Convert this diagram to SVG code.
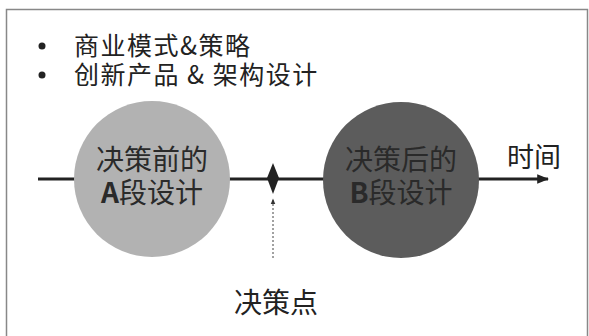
<svg xmlns="http://www.w3.org/2000/svg" width="589" height="336" viewBox="0 0 589 336">
<defs>
<style>
.t{font-family:"Noto Sans CJK SC","Noto Sans CJK JP",sans-serif;fill:#222}
.c{font-family:"Noto Sans CJK SC",sans-serif;font-size:28px;text-anchor:middle;fill:#2a2a2a}
.b{font-weight:bold}
</style>
<marker id="arr" viewBox="0 0 10 10" refX="9" refY="5" markerWidth="4" markerHeight="4" orient="auto" markerUnits="strokeWidth">
<path d="M0,1 L10,5 L0,9 Z" fill="#222"/>
</marker>
<marker id="arrs" viewBox="0 0 10 10" refX="9" refY="5" markerWidth="6" markerHeight="6" orient="auto" markerUnits="strokeWidth">
<path d="M0,1 L10,5 L0,9 Z" fill="#333"/>
</marker>
</defs>
<rect width="589" height="336" fill="#fff"/>
<path d="M6.5,340 V9.5 H587.5 V340" fill="none" stroke="#888" stroke-width="1.5"/>
<g id="bullets">
<circle cx="42" cy="46" r="3.5" fill="#222"/>
<text class="t" x="74" y="55" font-size="25" letter-spacing="1.5">商业模式&amp;策略</text>
<circle cx="42" cy="75" r="3.5" fill="#222"/>
<text class="t" x="74" y="84" font-size="25" letter-spacing="1.5">创新产品 &amp; 架构设计</text>
</g>
<g id="connectors">
<line x1="38" y1="179" x2="548" y2="179" stroke="#222" stroke-width="3" marker-end="url(#arr)"/>
<line x1="273" y1="258" x2="273" y2="199" stroke="#444" stroke-width="1" stroke-dasharray="2,2" marker-end="url(#arrs)"/>
</g>
<g id="nodeA">
<circle cx="152" cy="179" r="78" fill="#b2b2b2"/>
<text class="c" x="152" y="170">决策前的</text>
<text class="c" x="152" y="203"><tspan class="b">A</tspan>段设计</text>
</g>
<g id="nodeB">
<circle cx="401" cy="180" r="78" fill="#5c5c5c"/>
<text class="c" x="401" y="170" fill="#1e1e1e">决策后的</text>
<text class="c" x="401" y="203"><tspan class="b">B</tspan>段设计</text>
</g>
<g id="decision">
<path d="M273,163 L279,178 L273,194 L267,178 Z" fill="#222"/>
</g>
<g id="labels">
<text class="t" x="534" y="167" font-size="27" text-anchor="middle">时间</text>
<text class="t" x="276" y="313" font-size="28" text-anchor="middle">决策点</text>
</g>
</svg>
